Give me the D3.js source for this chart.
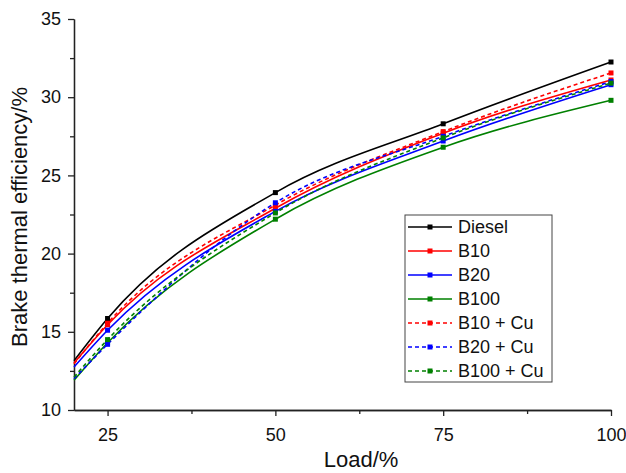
<!DOCTYPE html>
<html><head><meta charset="utf-8">
<script src="https://cdn.jsdelivr.net/npm/d3@7"></script>
<style>body{margin:0;background:#fff}svg{display:block}text{font-family:"Liberation Sans",Arial,sans-serif;fill:#111}</style>
</head><body><svg id="c" width="626" height="473"></svg>
<script>
// Curve points (load 20 is where the fitted curve starts; markers only at measured loads)
const curveLoads = [20, 25, 50, 75, 100];
const markerLoads = [25, 50, 75, 100];
const seriesNames = ["Diesel", "B10", "B20", "B100", "B10 + Cu", "B20 + Cu", "B100 + Cu"];
const diesel  = [13.15, 15.85, 23.9, 28.3, 32.25];
const b10     = [13.0, 15.45, 22.9, 27.7, 31.1];
const b20     = [12.75, 15.1, 22.7, 27.2, 30.8];
const b100    = [11.9, 14.3, 22.2, 26.8, 29.8];
const b10cu   = [12.95, 15.55, 23.1, 27.8, 31.55];
const b20cu   = [12.0, 14.2, 23.25, 27.5, 31.0];
const b100cu  = [12.1, 14.5, 22.6, 27.4, 30.9];
const xTicks = [25, 50, 75, 100];
const yTicks = [10, 15, 20, 25, 30, 35];
const xTitle = "Load/%";
const yTitle = "Brake thermal efficiency/%";

const seriesValues = [diesel, b10, b20, b100, b10cu, b20cu, b100cu];
const colors = ["#000000", "#ff0000", "#0000ff", "#008000", "#ff0000", "#0000ff", "#008000"];
const dashed = [false, false, false, false, true, true, true];

const svg = d3.select("#c");
const x = d3.scaleLinear().domain([20, 100]).range([74, 611]);
const y = d3.scaleLinear().domain([10, 35]).range([410, 19]);

// axes
const xAxis = d3.axisBottom(x).tickValues(xTicks).tickSize(6).tickSizeOuter(0).tickPadding(12);
const gx = svg.append("g").attr("transform", "translate(0,410)").call(xAxis);
const gxm = svg.append("g").attr("transform", "translate(0,410)")
  .call(d3.axisBottom(x).tickValues([37.5, 62.5, 87.5]).tickSize(4).tickFormat("").tickSizeOuter(0));
const yAxis = d3.axisLeft(y).tickValues(yTicks).tickSize(6).tickSizeOuter(0).tickPadding(7);
const gy = svg.append("g").attr("transform", "translate(74,0)").call(yAxis);
const gym = svg.append("g").attr("transform", "translate(74,0)")
  .call(d3.axisLeft(y).tickValues([12.5, 17.5, 22.5, 27.5, 32.5]).tickSize(4).tickFormat("").tickSizeOuter(0));
[gx, gxm, gy, gym].forEach(g => {
  g.selectAll("path,line").attr("stroke", "#222").attr("stroke-width", 1.3);
  g.selectAll("text").attr("font-size", 18).attr("font-family", "Liberation Sans, Arial, sans-serif").attr("fill", "#111");
});

// titles
svg.append("text").attr("x", 361).attr("y", 467).attr("text-anchor", "middle")
  .attr("font-size", 22).text(xTitle);
svg.append("text").attr("transform", "translate(27,217) rotate(-90)").attr("text-anchor", "middle")
  .attr("font-size", 22).text(yTitle);

// lines
const line = d3.line().x(d => x(d[0])).y(d => y(d[1])).curve(d3.curveMonotoneX);
seriesValues.forEach((vals, i) => {
  const pts = curveLoads.map((l, j) => [l, vals[j]]);
  svg.append("path").datum(pts).attr("d", line).attr("fill", "none")
    .attr("stroke", colors[i]).attr("stroke-width", 1.6)
    .attr("stroke-dasharray", dashed[i] ? "4,3" : null);
});
seriesValues.forEach((vals, i) => {
  markerLoads.forEach(l => {
    const v = vals[curveLoads.indexOf(l)];
    svg.append("rect").attr("x", x(l) - 2.5).attr("y", y(v) - 2.5).attr("width", 5).attr("height", 5)
      .attr("fill", colors[i]);
  });
});

// legend
const lg = svg.append("g");
lg.append("rect").attr("x", 405).attr("y", 215).attr("width", 147).attr("height", 167)
  .attr("fill", "#fff").attr("stroke", "#444").attr("stroke-width", 1);
seriesNames.forEach((n, i) => {
  const yy = 227 + i * 24;
  lg.append("line").attr("x1", 408).attr("x2", 452).attr("y1", yy).attr("y2", yy)
    .attr("stroke", colors[i]).attr("stroke-width", 1.6).attr("stroke-dasharray", dashed[i] ? "4,3" : null);
  lg.append("rect").attr("x", 427.5).attr("y", yy - 2.5).attr("width", 5).attr("height", 5).attr("fill", colors[i]);
  lg.append("text").attr("x", 458).attr("y", yy + 6).attr("font-size", 18).text(n);
});
</script></body></html>
